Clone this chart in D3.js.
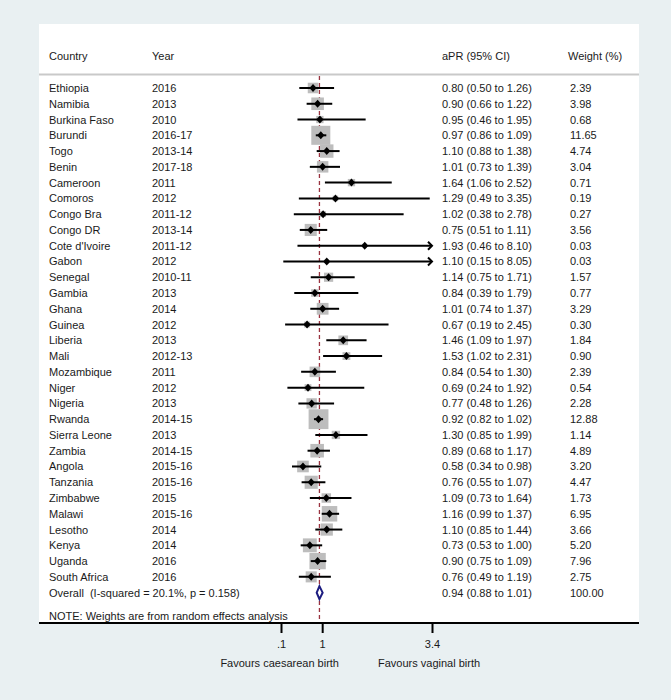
<!DOCTYPE html>
<html><head><meta charset="utf-8">
<script src="https://cdn.jsdelivr.net/npm/d3@7"></script>
<style>
html,body{margin:0;padding:0;background:#e9f0f2;}
svg{display:block;font-family:"Liberation Sans",Arial,sans-serif;}
text{fill:#1a1a1a;font-size:11px;}
</style></head>
<body>
<svg id="chart" width="671" height="700"></svg>
<script>
const countries = ["Ethiopia","Namibia","Burkina Faso","Burundi","Togo","Benin","Cameroon","Comoros","Congo Bra","Congo DR","Cote d'Ivoire","Gabon","Senegal","Gambia","Ghana","Guinea","Liberia","Mali","Mozambique","Niger","Nigeria","Rwanda","Sierra Leone","Zambia","Angola","Tanzania","Zimbabwe","Malawi","Lesotho","Kenya","Uganda","South Africa"];
const years = ["2016","2013","2010","2016-17","2013-14","2017-18","2011","2012","2011-12","2013-14","2011-12","2012","2010-11","2013","2014","2012","2013","2012-13","2011","2012","2013","2014-15","2013","2014-15","2015-16","2015-16","2015","2015-16","2014","2014","2016","2016"];
const estimates = [0.80,0.90,0.95,0.97,1.10,1.01,1.64,1.29,1.02,0.75,1.93,1.10,1.14,0.84,1.01,0.67,1.46,1.53,0.84,0.69,0.77,0.92,1.30,0.89,0.58,0.76,1.09,1.16,1.10,0.73,0.90,0.76];
const lower = [0.50,0.66,0.46,0.86,0.88,0.73,1.06,0.49,0.38,0.51,0.46,0.15,0.75,0.39,0.74,0.19,1.09,1.02,0.54,0.24,0.48,0.82,0.85,0.68,0.34,0.55,0.73,0.99,0.85,0.53,0.75,0.49];
const upper = [1.26,1.22,1.95,1.09,1.38,1.39,2.52,3.35,2.78,1.11,8.10,8.05,1.71,1.79,1.37,2.45,1.97,2.31,1.30,1.92,1.26,1.02,1.99,1.17,0.98,1.07,1.64,1.37,1.44,1.00,1.09,1.19];
const weights = [2.39,3.98,0.68,11.65,4.74,3.04,0.71,0.19,0.27,3.56,0.03,0.03,1.57,0.77,3.29,0.30,1.84,0.90,2.39,0.54,2.28,12.88,1.14,4.89,3.20,4.47,1.73,6.95,3.66,5.20,7.96,2.75];
const overall = {label:"Overall  (I-squared = 20.1%, p = 0.158)", est:0.94, lo:0.88, hi:1.01, weight:100.00};
const tickValues = [0.1, 1, 3.4];
const tickLabels = [".1", "1", "3.4"];
const headers = ["Country","Year","aPR (95% CI)","Weight (%)"];
const note = "NOTE: Weights are from random effects analysis";
const favours = ["Favours caesarean birth","Favours vaginal birth"];

const svg = d3.select("#chart");
const panel = {x0:39, x1:639, y0:24, y1:623};
svg.append("rect").attr("x",panel.x0).attr("y",panel.y0)
  .attr("width",panel.x1-panel.x0).attr("height",panel.y1-panel.y0).attr("fill","#ffffff");

const x = d3.scaleLinear().domain([0.1,3.4]).range([281,432]);
const nRows = countries.length;
const y = d3.scaleLinear().domain([0, nRows]).range([88, 88 + nRows*15.77]);
const col = {country:49, year:152, ci:442, w:570};
const fmt = d3.format(".2f");

// header
svg.append("text").attr("x",col.country).attr("y",60).text(headers[0]);
svg.append("text").attr("x",col.year).attr("y",60).text(headers[1]);
svg.append("text").attr("x",col.ci).attr("y",60).text(headers[2]);
svg.append("text").attr("x",568).attr("y",60).text(headers[3]);
svg.append("line").attr("x1",panel.x0).attr("x2",panel.x1).attr("y1",74.5).attr("y2",74.5)
  .attr("stroke","#c9c9c9").attr("stroke-width",2);

// overall effect dashed line
svg.append("line").attr("x1",x(overall.est)).attr("x2",x(overall.est))
  .attr("y1",76).attr("y2",panel.y1)
  .attr("stroke","#9a3340").attr("stroke-width",1.3).attr("stroke-dasharray","4,3");

const rows = countries.map((c,i)=>({c, yr:years[i], est:estimates[i], lo:lower[i], hi:upper[i], w:weights[i], i}));
const boxSide = w => 3.5 + 4.55*Math.sqrt(w);
const g = svg.append("g");
const xmax = x.domain()[1];

rows.forEach(d=>{
  const cy = y(d.i);
  const s = boxSide(d.w);
  g.append("rect").attr("x",x(d.est)-s/2).attr("y",cy-s/2).attr("width",s).attr("height",s).attr("fill","#bdbdbd");
  const hiC = Math.min(d.hi, xmax);
  g.append("line").attr("x1",x(d.lo)).attr("x2",x(hiC)).attr("y1",cy).attr("y2",cy)
    .attr("stroke","#000").attr("stroke-width",2);
  if (d.hi > xmax) {
    const ax = x(xmax);
    g.append("path").attr("d",`M${ax-4},${cy-4}L${ax},${cy}L${ax-4},${cy+4}`)
      .attr("fill","none").attr("stroke","#000").attr("stroke-width",2);
  }
  const cx = x(d.est);
  g.append("path").attr("d",`M${cx},${cy-4}L${cx+3.6},${cy}L${cx},${cy+4}L${cx-3.6},${cy}Z`).attr("fill","#000");
  g.append("text").attr("x",col.country).attr("y",cy+4).text(d.c);
  g.append("text").attr("x",col.year).attr("y",cy+4).text(d.yr);
  g.append("text").attr("x",col.ci).attr("y",cy+4).text(`${fmt(d.est)} (${fmt(d.lo)} to ${fmt(d.hi)})`);
  g.append("text").attr("x",col.w).attr("y",cy+4).text(fmt(d.w));
});

// overall row
const oy = y(nRows);
svg.append("path")
  .attr("d",`M${x(overall.lo)},${oy}L${x(overall.est)},${oy-6.5}L${x(overall.hi)},${oy}L${x(overall.est)},${oy+6.5}Z`)
  .attr("fill","#ffffff").attr("stroke","#1c1c80").attr("stroke-width",2);
svg.append("text").attr("x",col.country).attr("y",oy+4).attr("xml:space","preserve").style("white-space","pre").text(overall.label);
svg.append("text").attr("x",col.ci).attr("y",oy+4).text(`${fmt(overall.est)} (${fmt(overall.lo)} to ${fmt(overall.hi)})`);
svg.append("text").attr("x",col.w).attr("y",oy+4).text(fmt(overall.weight));

// note
svg.append("text").attr("x",col.country).attr("y",y(nRows+1.5)+4).text(note);

// axis
const axis = d3.axisBottom(x).tickValues(tickValues).tickFormat((d,i)=>tickLabels[i]).tickSize(10).tickPadding(7);
const ax = svg.append("g").attr("transform",`translate(0,${panel.y1})`).call(axis);
ax.select(".domain").remove();
ax.selectAll(".tick line").attr("stroke","#000").attr("stroke-width",2);
ax.selectAll(".tick text").attr("font-size",11).attr("font-family","Liberation Sans, Arial, sans-serif").attr("fill","#1a1a1a");
svg.append("line").attr("x1",panel.x0).attr("x2",panel.x1).attr("y1",panel.y1).attr("y2",panel.y1)
  .attr("stroke","#000").attr("stroke-width",2);

svg.append("text").attr("x",339).attr("y",667).attr("text-anchor","end").text(favours[0]);
svg.append("text").attr("x",378).attr("y",667).text(favours[1]);
</script>
</body></html>
